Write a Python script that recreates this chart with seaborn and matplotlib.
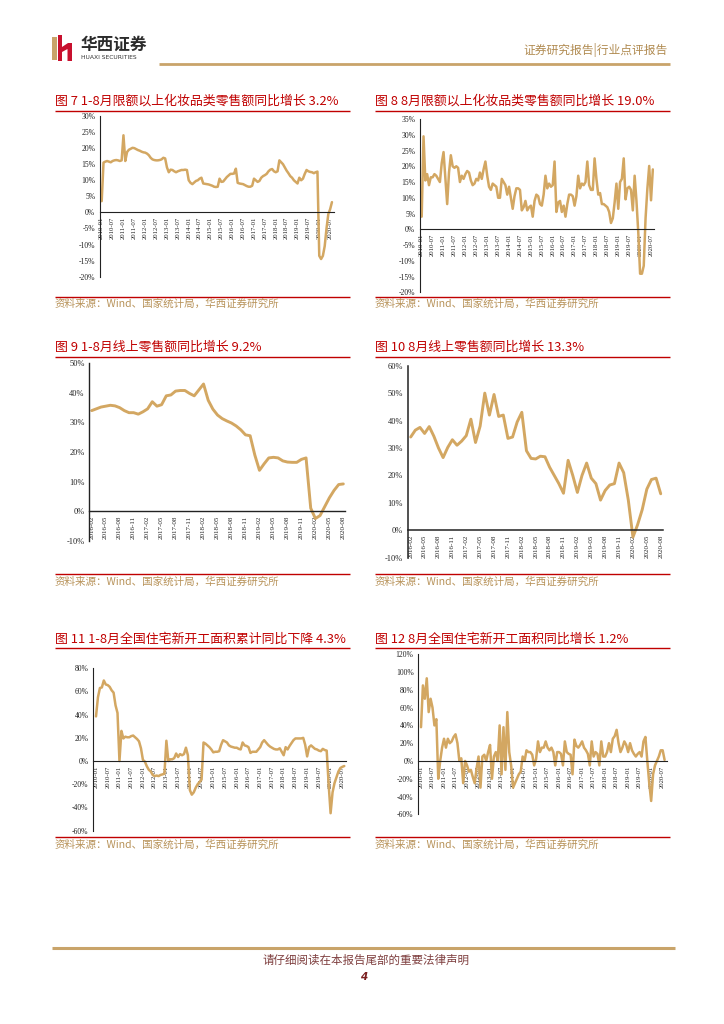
import numpy as np
import pandas as pd
import matplotlib
matplotlib.use('Agg')
import matplotlib.pyplot as plt
import seaborn as sns
from matplotlib.patches import Rectangle, Polygon

# ---------------- data ----------------
ticks_a = ["2010-01", "2010-07", "2011-01", "2011-07", "2012-01", "2012-07",
           "2013-01", "2013-07", "2014-01", "2014-07", "2015-01", "2015-07",
           "2016-01", "2016-07", "2017-01", "2017-07", "2018-01", "2018-07",
           "2019-01", "2019-07", "2020-01", "2020-07"]
ticks_b = ["2016-02", "2016-05", "2016-08", "2016-11", "2017-02", "2017-05",
           "2017-08", "2017-11", "2018-02", "2018-05", "2018-08", "2018-11",
           "2019-02", "2019-05", "2019-08", "2019-11", "2020-02", "2020-05",
           "2020-08"]

# 图7 1-8月限额以上化妆品类零售额累计同比 (%), 2010-01 .. 2020-08
cosm_cum = [3.5, 15.5, 15.8, 16.0, 15.8, 15.6, 16.0, 16.2, 16.3, 16.2, 16.0, 16.2,
            24.0, 16.0, 18.8, 19.5, 19.8, 20.1, 20.0, 19.7, 19.4, 19.2, 18.9, 18.7,
            18.6, 18.3, 17.8, 17.0, 16.5, 16.3, 16.2, 16.2, 16.3, 16.5, 17.0, 16.8,
            14.0, 12.5, 13.3, 13.2, 12.8, 12.5, 12.8, 13.0, 13.2, 13.2, 13.3, 13.2,
            10.0, 9.2, 8.8, 9.3, 9.8, 10.0, 10.5, 10.8, 9.0, 8.9, 8.8, 8.7,
            8.5, 8.3, 8.0, 7.9, 8.0, 10.5, 9.5, 9.6, 10.3, 11.0, 11.5, 12.0,
            12.0, 12.1, 13.6, 9.2, 9.0, 8.9, 8.8, 8.5, 8.2, 8.0, 8.0, 8.3,
            10.5, 10.0, 9.5, 9.8, 10.8, 11.3, 11.6, 12.0, 12.8, 13.3, 13.5, 12.8,
            12.5, 12.8, 16.2, 15.6, 15.0, 14.0, 13.0, 12.2, 11.3, 10.8, 10.0, 9.5,
            9.0, 10.8, 10.0, 10.5, 12.0, 13.2, 12.8, 12.6, 12.5, 12.2, 12.5, 12.7,
            -13.5, -14.5, -13.5, -10.5, -5.0, -0.5, 1.0, 3.2]

# 图8 化妆品类零售额当月同比 (%)
cosm_mon = [4.0, 29.5, 15.5, 17.5, 14.0, 16.5, 16.5, 17.5, 17.0, 16.0, 15.0, 21.0,
            24.5, 16.0, 8.0, 18.0, 23.5, 20.0, 19.5, 20.0, 19.5, 15.0, 17.0, 16.0,
            17.5, 18.5, 18.0, 15.5, 14.0, 14.5, 16.0, 15.5, 18.0, 16.0, 19.0, 21.5,
            17.0, 13.5, 12.5, 14.5, 14.0, 13.5, 10.0, 10.0, 16.0, 15.0, 14.0, 11.0,
            13.5, 10.0, 6.5, 10.5, 13.0, 13.0, 12.5, 6.0, 7.0, 9.0, 6.0, 7.0,
            7.5, 4.0, 9.0, 11.0, 10.5, 8.0, 7.5, 11.0, 17.0, 13.0, 14.5, 13.5,
            14.0, 21.5, 5.5, 8.5, 9.0, 5.5, 7.5, 4.0, 8.0, 11.0, 11.0, 10.5,
            7.5, 10.5, 17.0, 13.0, 14.5, 14.0, 15.0, 21.5, 14.0, 12.5, 12.5, 22.5,
            16.0, 11.0, 11.5, 8.0, 8.0, 7.5, 7.0, 5.5, 2.0, 3.5, 8.5, 14.5,
            6.5, 15.0, 16.0, 22.5, 9.5, 13.0, 13.5, 12.5, 6.0, 17.0, 9.0, -1.0,
            -14.1, -14.1, -11.6, 3.5, 12.9, 20.1, 9.2, 19.0]

# 图9 线上零售额累计同比 (%), 2016-02 .. 2020-08
online_cum = [34.0, 34.6, 35.2, 35.5, 35.8, 35.6, 35.0, 34.0, 33.3, 33.3, 32.8, 33.6,
              34.6, 37.0, 35.5, 36.0, 39.0, 39.3, 40.6, 40.8, 40.8, 39.8, 39.0, 41.0,
              43.0, 37.5, 34.5, 32.5, 31.3, 30.5, 29.8, 28.8, 27.5, 25.8, 25.5, 19.0,
              13.8, 16.0, 18.0, 18.2, 18.0, 17.0, 16.6, 16.5, 16.5, 17.5, 18.0, 1.0,
              -2.5, -1.5, 1.5, 4.5, 7.0, 9.0, 9.2]

# 图10 线上零售额当月同比 (%)
online_mon = [34.0, 36.5, 37.5, 35.3, 37.8, 34.3, 30.0, 26.5, 30.2, 33.0, 31.0, 32.5,
              34.5, 40.5, 32.0, 38.0, 50.0, 42.0, 49.5, 41.5, 42.0, 33.5, 34.0, 39.5,
              43.0, 29.0, 26.2, 26.0, 27.0, 26.8, 23.0, 20.0, 17.0, 13.5, 25.5, 20.0,
              13.8, 20.0, 24.5, 19.0, 17.0, 11.0, 14.5, 16.5, 17.0, 24.5, 21.0, 11.0,
              -2.5, 2.0, 7.5, 15.0, 18.5, 19.0, 13.3]

# 图11 住宅新开工面积累计同比 (%)
house_cum = [38.5, 55.0, 63.0, 63.5, 69.5, 66.0, 65.5, 64.0, 61.0, 59.0, 48.0, 41.5,
             0.0, 26.0, 19.5, 21.0, 20.5, 20.5, 21.5, 22.0, 20.5, 19.0, 17.0, 11.0,
             1.0, -0.5, -4.5, -7.5, -9.0, -12.0, -13.0, -12.5, -13.0, -12.0, -11.5, -11.0,
             17.5, 0.0, 1.5, 1.5, 2.5, 6.5, 3.5, 6.0, 5.0, 6.0, 11.5, 5.0,
             -25.0, -29.0, -27.0, -23.0, -20.0, -18.0, -16.0, 16.0, 15.0, 13.5, 12.0, 10.0,
             7.5, 8.0, 8.0, 8.5, 14.0, 18.0, 17.0, 16.0, 13.5, 12.5, 12.0, 11.5,
             11.5, 10.5, 10.0, 16.0, 13.5, 13.0, 12.0, 7.0, 8.0, 8.0, 8.0, 10.0,
             12.0, 16.0, 18.0, 16.0, 14.0, 12.5, 11.5, 10.5, 10.0, 10.0, 11.0, 8.0,
             5.0, 12.0, 10.0, 13.0, 15.5, 18.0, 19.5, 19.5, 19.5, 19.5, 20.0, 14.0,
             4.0, 12.0, 13.5, 12.0, 10.5, 10.0, 9.0, 8.5, 10.5, 9.5, 9.0, -20.0,
             -45.0, -27.0, -19.0, -14.0, -9.0, -6.0, -5.0, -4.3]

# 图12 住宅新开工面积当月同比 (%)
house_mon = [38, 85, 70, 93, 55, 70, 60, 40, 47, -20, 0, 15,
             25, 15, 25, 20, 22, 27, 30, 20, 0, 3, -25, 0,
             -5, -12, -10, -18, -25, -8, 5, -30, 5, 7, 0, 10,
             18, -20, 5, 10, 0, 40, -15, 38, -10, 55, 10, -5,
             -30, -25, -20, -15, -12, 5, 0, 12, 10, 10, 7, -5,
             2, 22, 10, 15, 15, 22, 15, 12, 15, 10, -5, 10,
             10, 8, -5, 22, 10, 8, 7, -15, 24, 17, 15, 18,
             22, 15, 12, 8, -5, 22, 5, 10, 8, -5, 22, 5,
             5, 10, 20, 10, 25, 28, 35, 20, 10, 15, 22, 18,
             10, 20, 12, 8, 5, 8, 10, 5, 22, 27, 0, -25,
             -45, -15, -5, 0, 5, 12, 12, 1.2]

titles = ["图 7 1-8月限额以上化妆品类零售额同比增长 3.2%",
          "图 8 8月限额以上化妆品类零售额同比增长 19.0%",
          "图 9 1-8月线上零售额同比增长 9.2%",
          "图 10 8月线上零售额同比增长 13.3%",
          "图 11 1-8月全国住宅新开工面积累计同比下降 4.3%",
          "图 12 8月全国住宅新开工面积同比增长 1.2%"]
source = "资料来源：Wind、国家统计局，华西证券研究所"

# ---------------- style ----------------
sns.set_theme(style='white')
plt.rcParams['font.family'] = ['Noto Sans CJK SC', 'DejaVu Sans']
plt.rcParams['axes.unicode_minus'] = False

LINE = '#D3A762'
RED = '#C00000'
GOLD = '#C9A46A'
SRC = '#B8935A'
AXC = '#222222'

W, H = 724, 1024
fig = plt.figure(figsize=(W / 100, H / 100), dpi=100)
fig.patch.set_facecolor('white')

deco = fig.add_axes([0, 0, 1, 1])
deco.set_xlim(0, W)
deco.set_ylim(H, 0)
deco.axis('off')


def hline(x0, x1, y, color, lw):
    deco.plot([x0, x1], [y, y], color=color, lw=lw, solid_capstyle='butt')


# header
deco.add_patch(Rectangle((52, 37), 4.5, 23, color='#C9A46A', lw=0))
deco.add_patch(Rectangle((57.5, 35), 4.5, 26, color='#C8102E', lw=0))
deco.add_patch(Polygon([(62, 47), (68, 43), (72, 43), (72, 61), (67.5, 61), (67.5, 49), (62, 52)],
                       closed=True, color='#C8102E', lw=0))
deco.text(81, 45, "华西证券", fontsize=12, fontweight='bold', color='#2b2b2b', va='center', ha='left')
deco.text(81, 57.5, "HUAXI SECURITIES", fontsize=4.3, color='#333333', va='center', ha='left',
          family='DejaVu Sans')
deco.text(668, 50, "证券研究报告|行业点评报告", fontsize=8.5, color='#B08A50', va='center', ha='right')
hline(159, 670, 64, GOLD, 2)

# footer
hline(52, 675, 947.5, GOLD, 2.2)
deco.text(366, 960, "请仔细阅读在本报告尾部的重要法律声明", fontsize=8.3, color='#7F3F3F',
          ha='center', va='center')
deco.text(364, 977, "4", fontsize=7.5, fontweight='bold', fontstyle='italic', color='#7A1F1F',
          ha='center', va='center', family='DejaVu Sans')

# titles and source lines
rows = [(101, 110.5, 297, 304), (347.5, 356.5, 574.3, 581.7), (639, 647.7, 836.7, 845)]
cols = [(55, 350), (375, 670)]
k = 0
for (ty, tl, sl, sy) in rows:
    for (cx0, cx1) in cols:
        deco.text(cx0, ty, titles[k], fontsize=9.3, color=RED, ha='left', va='center')
        hline(cx0, cx1, tl, RED, 1.0)
        hline(cx0, cx1, sl, RED, 1.0)
        deco.text(cx0, sy, source, fontsize=7.6, color=SRC, ha='left', va='center')
        k += 1


def chart(vals, xlabels, step, p0, dp, xl, xr, ytop, ybot, ymin, ymax, ystep, xfs, yfs, lw, alw):
    ax = fig.add_axes([xl / W, 1 - ybot / H, (xr - xl) / W, (ybot - ytop) / H])
    ax.patch.set_alpha(0)
    df = pd.DataFrame({'i': np.arange(len(vals)), 'v': vals})
    sns.lineplot(data=df, x='i', y='v', ax=ax, color=LINE, linewidth=lw)
    # spine placement first (it resets the ticks)
    for s in ['top', 'right']:
        ax.spines[s].set_visible(False)
    ax.spines['bottom'].set_position(('data', 0))
    for s in ['left', 'bottom']:
        ax.spines[s].set_color(AXC)
        ax.spines[s].set_linewidth(alw)
    ax.set_xlim((xl - p0) / dp, (xr - p0) / dp)
    ax.set_ylim(ymin, ymax)
    ax.set_xlabel('')
    ax.set_ylabel('')
    ax.set_xticks(np.arange(len(xlabels)) * step)
    ax.set_xticklabels(xlabels, rotation=90, fontsize=xfs, family='Liberation Serif', color=AXC)
    yt = np.arange(ymin, ymax + 0.01, ystep)
    ax.set_yticks(yt)
    ax.set_yticklabels([f'{v:.0f}%' for v in yt], fontsize=yfs, family='Liberation Serif', color=AXC)
    ax.tick_params(axis='both', direction='out', length=2.2, width=0.6, color=AXC, pad=1.2)
    ax.tick_params(axis='x', pad=1)
    ax.grid(False)
    return ax


chart(cosm_cum, ticks_a, 6, 101.7, 1.813, 100, 334, 116, 276.7, -20, 30, 5, 4.8, 5.5, 1.8, 0.8)
chart(cosm_mon, ticks_a, 6, 421.7, 1.82, 420, 654, 119, 292.3, -20, 35, 5, 4.8, 5.5, 1.8, 0.8)
chart(online_cum, ticks_b, 3, 91.7, 4.66, 89.3, 345, 363.3, 540.7, -10, 50, 10, 5.0, 6.0, 2.1, 1.0)
chart(online_mon, ticks_b, 3, 410.7, 4.63, 407.7, 663, 365.7, 557.7, -10, 60, 10, 5.0, 6.0, 2.1, 1.1)
chart(house_cum, ticks_a, 6, 96, 1.955, 93.3, 346, 668.3, 830.6, -60, 80, 20, 4.8, 5.5, 1.8, 0.8)
chart(house_mon, ticks_a, 6, 421, 1.918, 418.3, 667, 654.3, 814.3, -60, 120, 20, 4.8, 5.5, 1.8, 0.8)

fig.savefig('out.png', dpi=100, facecolor='white')
